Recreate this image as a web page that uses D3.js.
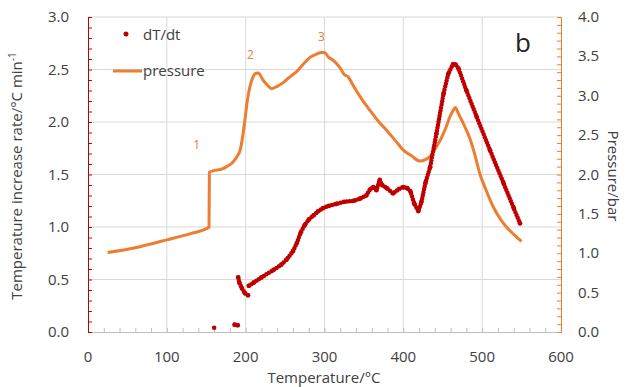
<!DOCTYPE html>
<html>
<head>
<meta charset="utf-8">
<script src="https://cdn.jsdelivr.net/npm/d3@7"></script>
<style>
  body { margin: 0; background: #fff; }
  svg text { font-family: 'Open Sans', sans-serif; fill: #404040; }
</style>
</head>
<body>
<div id="io"></div>
<script>
// pressure curve (bar, right axis)
const PRESS_T = [25, 60, 100, 130, 153.5, 154, 160, 170, 176, 184, 189, 193, 196, 199, 202, 205.5, 209, 212, 216, 222,
  228, 233, 240, 248, 256, 265, 273, 282, 290, 296, 300, 305, 311, 316, 320, 325, 330, 337, 347, 358,
  368, 379, 390, 400, 410, 421, 428, 434, 440, 447, 453, 459, 463, 466, 470, 476, 485, 491, 497, 505,
  514, 522, 531, 540, 550];
const PRESS_BAR = [1.01, 1.07, 1.17, 1.25, 1.33, 2.03, 2.05, 2.07, 2.10, 2.16, 2.23, 2.31, 2.47, 2.69, 2.93, 3.12, 3.23, 3.28, 3.29, 3.20,
  3.13, 3.09, 3.12, 3.17, 3.24, 3.31, 3.40, 3.49, 3.53, 3.55, 3.55, 3.49, 3.45, 3.40, 3.35, 3.27, 3.24, 3.12, 2.96, 2.81,
  2.68, 2.56, 2.43, 2.31, 2.24, 2.17, 2.19, 2.23, 2.32, 2.44, 2.57, 2.73, 2.81, 2.85, 2.77, 2.65, 2.44, 2.24, 2.01, 1.80,
  1.59, 1.45, 1.33, 1.24, 1.15];

// dT/dt (°C/min, left axis); null breaks the trace
const RATE_T = [160, null, 186, 190, null, 190.5, 192, 195, 199, 203, null,
  204, 210, 220, 235, 245, 252, 260, 265, 270, 275, 280, 286, 292, 298, 305, 315, 325, 337, 345, 353,
  358, 362, 366, 370, 373, 379, 387, 394, 400, 405, 409, 414, 419, 423, 428, 434, 442, 451, 457, 463,
  466, 470, 480, 493, 510, 527, 540, 548];
const RATE_V = [0.04, null, 0.07, 0.065, null, 0.52, 0.47, 0.42, 0.37, 0.35, null,
  0.44, 0.47, 0.52, 0.59, 0.64, 0.69, 0.77, 0.85, 0.95, 1.02, 1.07, 1.11, 1.15, 1.18, 1.20, 1.22, 1.24, 1.25, 1.27, 1.30,
  1.36, 1.38, 1.35, 1.45, 1.40, 1.37, 1.32, 1.36, 1.38, 1.37, 1.34, 1.22, 1.15, 1.24, 1.42, 1.57, 1.89, 2.27, 2.46, 2.55,
  2.55, 2.51, 2.30, 2.05, 1.73, 1.42, 1.18, 1.035];

const X_TICKS = [0, 100, 200, 300, 400, 500, 600];
const LEFT_TICKS = [0, 0.5, 1.0, 1.5, 2.0, 2.5, 3.0];
const RIGHT_TICKS = [0, 0.5, 1.0, 1.5, 2.0, 2.5, 3.0, 3.5, 4.0];
const NOTES = [{ label: '1', t: 138, v: 1.74 }, { label: '2', t: 206, v: 2.6 }, { label: '3', t: 296, v: 2.77 }];

const RED = '#c00000', ORANGE = '#ed7d31';

const svg = d3.select('#io').append('svg').attr('width', 626).attr('height', 387);

const xScale = d3.scaleLinear().domain([0, 600]).range([88, 561]);
const yLeft = d3.scaleLinear().domain([0, 3]).range([332, 17]);
const yRight = d3.scaleLinear().domain([0, 4]).range([332, 17]);

// grid
svg.append('g').selectAll('line').data(X_TICKS.slice(1, -1)).enter().append('line')
  .attr('x1', d => xScale(d)).attr('x2', d => xScale(d)).attr('y1', 17).attr('y2', 332)
  .attr('stroke', '#d9d9d9');
svg.append('g').selectAll('line').data(LEFT_TICKS.slice(1)).enter().append('line')
  .attr('x1', 88).attr('x2', 561).attr('y1', d => yLeft(d)).attr('y2', d => yLeft(d))
  .attr('stroke', '#d9d9d9');

// axes
const xAxis = svg.append('g').attr('transform', 'translate(0,332)')
  .call(d3.axisBottom(xScale).tickValues(d3.range(0, 601, 20)).tickSize(-4).tickFormat(''));
xAxis.selectAll('line, path').attr('stroke', '#bfbfbf');
svg.append('g').selectAll('text').data(X_TICKS).enter().append('text')
  .attr('x', d => xScale(d)).attr('y', 362).attr('text-anchor', 'middle')
  .style('font-size', '15px').text(d => d);

const lAxis = svg.append('g').attr('transform', 'translate(88,0)')
  .call(d3.axisLeft(yLeft).tickValues(d3.range(0, 3.01, 0.1)).tickSize(-4).tickFormat(''));
lAxis.selectAll('line, path').attr('stroke', RED);
svg.append('g').selectAll('text').data(LEFT_TICKS).enter().append('text')
  .attr('x', 69).attr('y', d => yLeft(d) + 5).attr('text-anchor', 'end')
  .style('font-size', '15px').text(d => d.toFixed(1));

const rAxis = svg.append('g').attr('transform', 'translate(561,0)')
  .call(d3.axisRight(yRight).tickValues(d3.range(0, 4.01, 0.1)).tickSize(-4).tickFormat(''));
rAxis.selectAll('line, path').attr('stroke', ORANGE);
svg.append('g').selectAll('text').data(RIGHT_TICKS).enter().append('text')
  .attr('x', 578).attr('y', d => yRight(d) + 5)
  .style('font-size', '15px').text(d => d.toFixed(1));

// axis titles
svg.append('text').attr('x', 324).attr('y', 383).attr('text-anchor', 'middle')
  .style('font-size', '15px').text('Temperature/°C');
const lt = svg.append('text').attr('transform', 'translate(22,176) rotate(-90)')
  .attr('text-anchor', 'middle').style('font-size', '15px');
lt.append('tspan').text('Temperature increase rate/°C min');
lt.append('tspan').attr('dy', -6).style('font-size', '10px').text('-1');
svg.append('text').attr('transform', 'translate(608,176) rotate(90)')
  .attr('text-anchor', 'middle').style('font-size', '15px').text('Pressure/bar');

// pressure line
const pressData = PRESS_T.map((t, i) => ({ t: t, p: PRESS_BAR[i] }));
svg.append('path').datum(pressData)
  .attr('fill', 'none').attr('stroke', ORANGE).attr('stroke-width', 3).attr('stroke-linejoin', 'round')
  .attr('d', d3.line().x(d => xScale(d.t)).y(d => yRight(d.p)).curve(d3.curveMonotoneX));

// dT/dt dots
const rateData = RATE_T.map((t, i) => ({ t: t, v: RATE_V[i] }));
svg.append('path').datum(rateData)
  .attr('fill', 'none').attr('stroke', RED).attr('stroke-width', 4.5)
  .attr('stroke-linecap', 'round').attr('stroke-dasharray', '0 3')
  .attr('d', d3.line().defined(d => d.v != null).x(d => xScale(d.t)).y(d => yLeft(d.v)));
svg.append('g').selectAll('circle').data(rateData.filter(d => d.v != null)).enter().append('circle')
  .attr('cx', d => xScale(d.t)).attr('cy', d => yLeft(d.v)).attr('r', 2.3).attr('fill', RED);

// peak labels
svg.append('g').selectAll('text').data(NOTES).enter().append('text')
  .attr('x', d => xScale(d.t)).attr('y', d => yLeft(d.v)).attr('text-anchor', 'middle')
  .style('font-size', '12px').style('fill', ORANGE).text(d => d.label);

// legend
svg.append('circle').attr('cx', 126).attr('cy', 34).attr('r', 2.5).attr('fill', RED);
svg.append('text').attr('x', 143).attr('y', 40).style('font-size', '15px').text('dT/dt');
svg.append('line').attr('x1', 113).attr('x2', 142).attr('y1', 71).attr('y2', 71)
  .attr('stroke', ORANGE).attr('stroke-width', 3);
svg.append('text').attr('x', 143).attr('y', 76).style('font-size', '15px').text('pressure');

svg.append('text').attr('x', 515).attr('y', 52).style('font-size', '26px').style('fill', '#222').text('b');
</script>
</body>
</html>
